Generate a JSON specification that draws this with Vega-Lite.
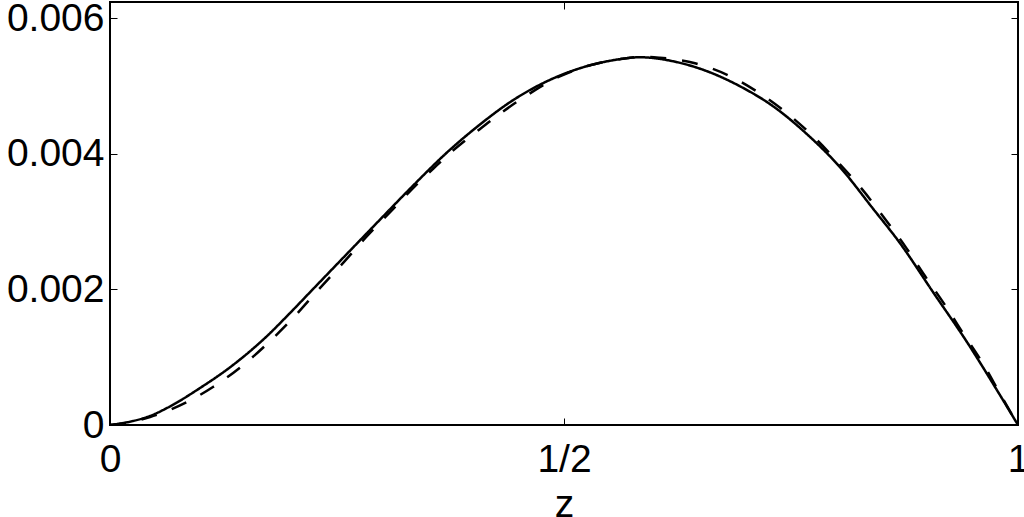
{
  "$schema": "https://vega.github.io/schema/vega-lite/v6.json",
  "width": 908,
  "height": 423,
  "autosize": "none",
  "padding": {"left": 110, "top": 2, "right": 6, "bottom": 92},
  "background": "white",
  "config": {
    "font": "Liberation Sans",
    "view": {"stroke": "black", "strokeWidth": 2},
    "axis": {"labelColor": "black", "tickColor": "black", "titleColor": "black", "labelFont": "Liberation Sans", "titleFont": "Liberation Sans"}
  },
  "data": {
    "values": [
      {"z": 0, "v": 0, "s": "solid"},
      {"z": 0.0253, "v": 0.000059, "s": "solid"},
      {"z": 0.0441, "v": 0.000133, "s": "solid"},
      {"z": 0.0628, "v": 0.000251, "s": "solid"},
      {"z": 0.0991, "v": 0.000545, "s": "solid"},
      {"z": 0.1355, "v": 0.000885, "s": "solid"},
      {"z": 0.1729, "v": 0.001312, "s": "solid"},
      {"z": 0.1982, "v": 0.001651, "s": "solid"},
      {"z": 0.2236, "v": 0.002005, "s": "solid"},
      {"z": 0.2533, "v": 0.002418, "s": "solid"},
      {"z": 0.2974, "v": 0.00303, "s": "solid"},
      {"z": 0.3337, "v": 0.00353, "s": "solid"},
      {"z": 0.3711, "v": 0.00402, "s": "solid"},
      {"z": 0.4053, "v": 0.00441, "s": "solid"},
      {"z": 0.4438, "v": 0.004791, "s": "solid"},
      {"z": 0.4813, "v": 0.005071, "s": "solid"},
      {"z": 0.5176, "v": 0.005263, "s": "solid"},
      {"z": 0.554, "v": 0.005381, "s": "solid"},
      {"z": 0.5837, "v": 0.005425, "s": "solid"},
      {"z": 0.62, "v": 0.005366, "s": "solid"},
      {"z": 0.6575, "v": 0.005219, "s": "solid"},
      {"z": 0.6938, "v": 0.004997, "s": "solid"},
      {"z": 0.7302, "v": 0.004703, "s": "solid"},
      {"z": 0.7676, "v": 0.00429, "s": "solid"},
      {"z": 0.804, "v": 0.003803, "s": "solid"},
      {"z": 0.8403, "v": 0.003192, "s": "solid"},
      {"z": 0.87, "v": 0.002683, "s": "solid"},
      {"z": 0.9064, "v": 0.001961, "s": "solid"},
      {"z": 0.9438, "v": 0.001224, "s": "solid"},
      {"z": 0.9802, "v": 0.00044, "s": "solid"},
      {"z": 1, "v": 0, "s": "solid"},
      {"z": 0, "v": 0, "s": "dashed"},
      {"z": 0.0165, "v": 0.00003, "s": "dashed"},
      {"z": 0.0441, "v": 0.000118, "s": "dashed"},
      {"z": 0.0848, "v": 0.000339, "s": "dashed"},
      {"z": 0.1134, "v": 0.00056, "s": "dashed"},
      {"z": 0.1454, "v": 0.00087, "s": "dashed"},
      {"z": 0.174, "v": 0.001209, "s": "dashed"},
      {"z": 0.2015, "v": 0.001577, "s": "dashed"},
      {"z": 0.2291, "v": 0.00199, "s": "dashed"},
      {"z": 0.2555, "v": 0.002373, "s": "dashed"},
      {"z": 0.283, "v": 0.002786, "s": "dashed"},
      {"z": 0.3117, "v": 0.003184, "s": "dashed"},
      {"z": 0.3392, "v": 0.003568, "s": "dashed"},
      {"z": 0.3601, "v": 0.003833, "s": "dashed"},
      {"z": 0.3744, "v": 0.00401, "s": "dashed"},
      {"z": 0.3888, "v": 0.004172, "s": "dashed"},
      {"z": 0.3987, "v": 0.004275, "s": "dashed"},
      {"z": 0.4273, "v": 0.00457, "s": "dashed"},
      {"z": 0.4593, "v": 0.004865, "s": "dashed"},
      {"z": 0.4934, "v": 0.00513, "s": "dashed"},
      {"z": 0.5286, "v": 0.005307, "s": "dashed"},
      {"z": 0.5617, "v": 0.005396, "s": "dashed"},
      {"z": 0.5892, "v": 0.005432, "s": "dashed"},
      {"z": 0.6057, "v": 0.005418, "s": "dashed"},
      {"z": 0.6443, "v": 0.005336, "s": "dashed"},
      {"z": 0.6806, "v": 0.00516, "s": "dashed"},
      {"z": 0.7137, "v": 0.004909, "s": "dashed"},
      {"z": 0.7456, "v": 0.0046, "s": "dashed"},
      {"z": 0.7742, "v": 0.004261, "s": "dashed"},
      {"z": 0.8018, "v": 0.003877, "s": "dashed"},
      {"z": 0.8282, "v": 0.003479, "s": "dashed"},
      {"z": 0.8513, "v": 0.003081, "s": "dashed"},
      {"z": 0.8756, "v": 0.002639, "s": "dashed"},
      {"z": 0.8976, "v": 0.002197, "s": "dashed"},
      {"z": 0.9196, "v": 0.001769, "s": "dashed"},
      {"z": 0.9394, "v": 0.001356, "s": "dashed"},
      {"z": 0.9637, "v": 0.000855, "s": "dashed"},
      {"z": 0.9802, "v": 0.00046, "s": "dashed"},
      {"z": 1, "v": 0, "s": "dashed"}
    ]
  },
  "layer": [
    {
      "mark": {"type": "line", "color": "black", "strokeWidth": 2.5, "interpolate": "monotone", "clip": true},
      "encoding": {
        "x": {
          "field": "z", "type": "quantitative",
          "scale": {"domain": [0, 1], "nice": false},
          "axis": {
            "orient": "bottom", "values": [0, 0.5, 1],
            "labelExpr": "datum.value == 0.5 ? '1/2' : format(datum.value, 'd')",
            "labelFlush": false, "labelOverlap": false, "tickSize": -7, "tickWidth": 1, "domain": false, "grid": false,
            "labelFontSize": 39, "labelPadding": 22,
            "title": "z", "titleFontSize": 39, "titleFontWeight": "normal", "titlePadding": 6
          }
        },
        "y": {
          "field": "v", "type": "quantitative",
          "scale": {"domain": [0, 0.00624], "nice": false, "zero": true},
          "axis": {
            "orient": "left", "values": [0, 0.002, 0.004, 0.006], "format": ".3~f",
            "labelOverlap": false, "labelFlush": false, "tickSize": -7, "tickWidth": 1, "domain": false, "grid": false,
            "labelFontSize": 39, "labelPadding": 13, "title": null
          }
        },
        "strokeDash": {
          "field": "s", "type": "nominal",
          "scale": {"domain": ["solid", "dashed"], "range": [[1, 0], [16, 16]]},
          "legend": null
        },
        "detail": {"field": "s"}
      }
    },
    {
      "mark": {"type": "line", "opacity": 0},
      "encoding": {
        "x": {
          "field": "z", "type": "quantitative",
          "scale": {"domain": [0, 1], "nice": false},
          "axis": {"orient": "top", "values": [0, 0.5, 1], "labels": false, "tickSize": -7, "tickWidth": 1, "domain": false, "grid": false, "title": null}
        },
        "y": {
          "field": "v", "type": "quantitative",
          "scale": {"domain": [0, 0.00624], "nice": false},
          "axis": {"orient": "right", "values": [0, 0.002, 0.004, 0.006], "labels": false, "tickSize": -7, "tickWidth": 1, "domain": false, "grid": false, "title": null}
        },
        "detail": {"field": "s"}
      }
    }
  ],
  "resolve": {"axis": {"x": "independent", "y": "independent"}}
}
